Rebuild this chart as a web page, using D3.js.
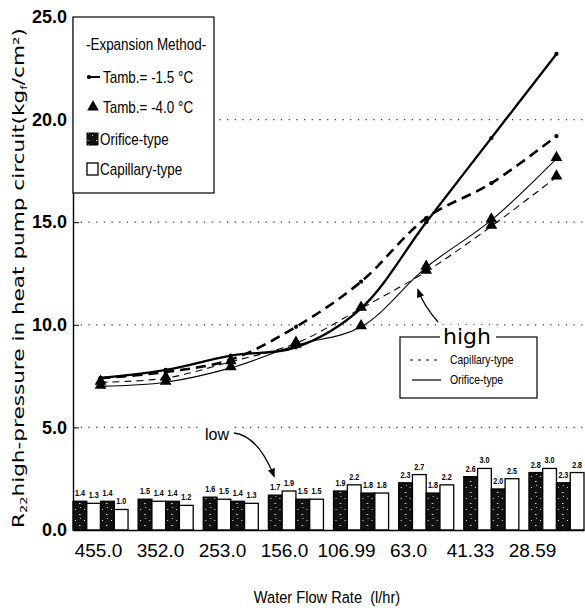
<!DOCTYPE html>
<html>
<head>
<meta charset="utf-8">
<script src="https://cdn.jsdelivr.net/npm/d3@7"></script>
<style>
	body { margin: 0; background: #fff; }
	svg { display: block; }
	text { fill: #000; white-space: pre; }
</style>
</head>
<body>
<svg id="chart" width="585" height="613"></svg>
<script>
// water flow rate categories (l/hr)
const flowRates = ["455.0", "352.0", "253.0", "156.0", "106.99", "63.0", "41.33", "28.59"]
const yTicks = [0, 5, 10, 15, 20, 25]
const gridTicks = [5, 10, 15, 20]

// high pressure lines (kgf/cm2)
const orificeHigh15 = [7.4, 7.8, 8.5, 8.9, 10.8, 15.0, 19.1, 23.2]
const capillaryHigh15 = [7.4, 7.7, 8.3, 9.9, 12.1, 15.2, 16.9, 19.2]
const orificeHigh40 = [7.0, 7.2, 7.9, 9.0, 9.9, 12.8, 15.1, 18.1]
const capillaryHigh40 = [7.2, 7.4, 8.2, 9.1, 10.8, 12.6, 14.8, 17.2]

// low pressure bars
const orificeLow15 = [1.4, 1.5, 1.6, 1.7, 1.9, 2.3, 2.6, 2.8]
const capillaryLow15 = [1.3, 1.4, 1.5, 1.9, 2.2, 2.7, 3.0, 3.0]
const orificeLow40 = [1.4, 1.4, 1.4, 1.5, 1.8, 1.8, 2.0, 2.3]
const capillaryLow40 = [1.0, 1.2, 1.3, 1.5, 1.8, 2.2, 2.5, 2.8]

const sans = "'Liberation Sans', Arial, sans-serif"
const svg = d3.select("#chart")

// condensed text, the scan uses a narrow face
function narrowText(parent, x, y, str, size, squeeze, weight) {
	return parent.append("text")
		.attr("transform", `translate(${x},${y}) scale(${squeeze},1)`)
		.style("font", `${weight || "normal"} ${size}px ${sans}`)
		.text(str)
}

const x = d3.scaleBand().domain(flowRates).range([73, 584]).paddingInner(0.155).paddingOuter(0)
const xLabel = d3.scalePoint().domain(flowRates).range([98, 532])
const y = d3.scaleLinear().domain([0, 25]).range([530, 17])

const barSeries = [
	{ key: "o15", values: orificeLow15, dark: true },
	{ key: "c15", values: capillaryLow15, dark: false },
	{ key: "o40", values: orificeLow40, dark: true },
	{ key: "c40", values: capillaryLow40, dark: false }
]
const xSub = d3.scaleBand().domain(barSeries.map(s => s.key)).range([0, x.bandwidth()])

// speckled black fill for orifice bars
const defs = svg.append("defs")
const pat = defs.append("pattern")
	.attr("id", "speckle")
	.attr("width", 9).attr("height", 11)
	.attr("patternUnits", "userSpaceOnUse")
pat.append("rect").attr("width", 9).attr("height", 11).attr("fill", "#111")
pat.append("rect").attr("x", 2).attr("y", 3).attr("width", 1).attr("height", 1).attr("fill", "#ddd")
pat.append("rect").attr("x", 6).attr("y", 8).attr("width", 1.5).attr("height", 1).attr("fill", "#ddd")
pat.append("rect").attr("x", 7).attr("y", 1).attr("width", 1).attr("height", 1).attr("fill", "#bbb")

defs.append("marker")
	.attr("id", "arrow")
	.attr("viewBox", "0 0 10 10")
	.attr("refX", 8).attr("refY", 5)
	.attr("markerWidth", 7).attr("markerHeight", 7)
	.attr("orient", "auto")
	.append("path").attr("d", "M0,1 L10,5 L0,9 Z").attr("fill", "#000")

// dotted grid
svg.append("g").selectAll("line")
	.data(gridTicks)
	.enter().append("line")
		.attr("x1", 73).attr("x2", 585)
		.attr("y1", d => y(d)).attr("y2", d => y(d))
		.attr("stroke", "#333")
		.attr("stroke-width", 1.2)
		.attr("stroke-dasharray", "1.2,6.5")

// bars
const groups = svg.append("g").selectAll("g")
	.data(flowRates)
	.enter().append("g")
		.attr("transform", d => `translate(${x(d)},0)`)

groups.selectAll("rect")
	.data((d, i) => barSeries.map(s => ({ key: s.key, dark: s.dark, value: s.values[i] })))
	.enter().append("rect")
		.attr("x", d => xSub(d.key))
		.attr("y", d => y(d.value))
		.attr("width", xSub.bandwidth())
		.attr("height", d => y(0) - y(d.value))
		.attr("fill", d => d.dark ? "url(#speckle)" : "#fff")
		.attr("stroke", "#000")
		.attr("stroke-width", 1.3)

groups.selectAll("text")
	.data((d, i) => barSeries.map(s => ({ key: s.key, value: s.values[i] })))
	.enter().append("text")
		.attr("transform", d => `translate(${xSub(d.key) + xSub.bandwidth() / 2},${y(d.value) - 5}) scale(0.8,1)`)
		.attr("text-anchor", "middle")
		.style("font", `bold 9px ${sans}`)
		.text(d => d3.format(".1f")(d.value))

// lines
const lineSeries = [
	{ values: orificeHigh15, width: 2.3, dash: null, mark: "dot" },
	{ values: capillaryHigh15, width: 2.6, dash: "10,6", mark: "dot" },
	{ values: orificeHigh40, width: 1.1, dash: null, mark: "tri" },
	{ values: capillaryHigh40, width: 1.1, dash: "7,5", mark: "tri" }
]
const cx = d => x(d) + x.bandwidth() / 2
const line = d3.line()
	.x((d, i) => cx(flowRates[i]))
	.y(d => y(d))
	.curve(d3.curveCatmullRom.alpha(0.5))

lineSeries.forEach(s => {
	svg.append("path")
		.datum(s.values)
		.attr("d", line)
		.attr("fill", "none")
		.attr("stroke", "#000")
		.attr("stroke-width", s.width)
		.attr("stroke-dasharray", s.dash)
	const sym = s.mark == "tri" ? d3.symbol(d3.symbolTriangle, 60) : d3.symbol(d3.symbolCircle, 14)
	svg.append("g").selectAll("path")
		.data(s.values)
		.enter().append("path")
			.attr("d", sym)
			.attr("transform", (d, i) => `translate(${cx(flowRates[i])},${y(d) - (s.mark == "tri" ? 1 : 0)})`)
			.attr("fill", "#000")
})

// axes
const yAxis = svg.append("g")
	.attr("transform", "translate(73,0)")
	.call(d3.axisLeft(y).tickValues(yTicks).tickFormat(d3.format(".1f")).tickSize(-6).tickSizeOuter(0).tickPadding(6))
yAxis.select(".domain").attr("stroke-width", 1.4)
yAxis.selectAll("text").style("font", `bold 18px ${sans}`)

svg.append("g")
	.attr("transform", `translate(0,${y(0)})`)
	.call(d3.axisBottom(x).tickSize(0).tickSizeOuter(0).tickFormat(""))
	.select(".domain").attr("stroke-width", 1.4)

const xAxis = svg.append("g")
	.attr("transform", `translate(0,${y(0)})`)
	.call(d3.axisBottom(xLabel).tickSize(0).tickPadding(14))
xAxis.select(".domain").remove()
xAxis.selectAll("text").style("font", `19px ${sans}`)

narrowText(svg, 327, 603, "Water Flow Rate  (l/hr)", 17, 0.86).attr("text-anchor", "middle")

const yTitle = svg.append("text")
	.attr("transform", "translate(24,278) rotate(-90)")
	.attr("text-anchor", "middle")
	.attr("textLength", 500)
	.attr("lengthAdjust", "spacingAndGlyphs")
	.style("font", "15px 'DejaVu Sans', sans-serif")
yTitle.append("tspan").text("R")
yTitle.append("tspan").attr("font-size", 9).attr("dy", 3).text("22")
yTitle.append("tspan").attr("dy", -3).text("high-pressure in heat pump circuit(kg")
yTitle.append("tspan").attr("font-size", 9).attr("dy", 3).text("f")
yTitle.append("tspan").attr("dy", -3).text("/cm²)")

// legend: expansion method
const leg = svg.append("g")
leg.append("rect")
	.attr("x", 73).attr("y", 17).attr("width", 141).attr("height", 176)
	.attr("fill", "#fff").attr("stroke", "#000").attr("stroke-width", 1.2)
narrowText(leg, 86, 50, "-Expansion Method-", 16, 0.84)
leg.append("line").attr("x1", 87).attr("x2", 100).attr("y1", 77).attr("y2", 77).attr("stroke", "#000").attr("stroke-width", 2)
leg.append("path").attr("d", d3.symbol(d3.symbolCircle, 14)).attr("transform", "translate(89,77)")
narrowText(leg, 103, 83, "Tamb.= -1.5 °C", 16, 0.84)
leg.append("path").attr("d", d3.symbol(d3.symbolTriangle, 60)).attr("transform", "translate(93,107)")
narrowText(leg, 103, 113, "Tamb.= -4.0 °C", 16, 0.84)
leg.append("rect").attr("x", 87).attr("y", 133).attr("width", 11).attr("height", 12)
	.attr("fill", "url(#speckle)").attr("stroke", "#000")
narrowText(leg, 100, 145, "Orifice-type", 16, 0.84)
leg.append("rect").attr("x", 87).attr("y", 163).attr("width", 11).attr("height", 12)
	.attr("fill", "#fff").attr("stroke", "#000").attr("stroke-width", 1.3)
narrowText(leg, 100, 175, "Capillary-type", 16, 0.84)

// legend: high
const hi = svg.append("g")
hi.append("rect")
	.attr("x", 400).attr("y", 337).attr("width", 137).attr("height", 61)
	.attr("fill", "#fff").attr("stroke", "#000").attr("stroke-width", 1.2)
hi.append("rect").attr("x", 440).attr("y", 325).attr("width", 56).attr("height", 20).attr("fill", "#fff")
hi.append("text")
	.attr("x", 467).attr("y", 344)
	.attr("text-anchor", "middle")
	.style("font", "22px 'DejaVu Sans', sans-serif")
	.text("high")
hi.append("line").attr("x1", 410).attr("x2", 442).attr("y1", 360).attr("y2", 360)
	.attr("stroke", "#000").attr("stroke-dasharray", "3,5")
narrowText(hi, 450, 364, "Capillary-type", 13, 0.8)
hi.append("line").attr("x1", 412).attr("x2", 441).attr("y1", 380).attr("y2", 380)
	.attr("stroke", "#000").attr("stroke-width", 1.2)
narrowText(hi, 450, 384, "Orifice-type", 13, 0.8)

// annotation arrows
svg.append("path")
	.attr("d", "M438,322 Q424,306 418,290")
	.attr("fill", "none").attr("stroke", "#000").attr("stroke-width", 1.3)
	.attr("marker-end", "url(#arrow)")
svg.append("rect").attr("x", 203).attr("y", 426).attr("width", 30).attr("height", 16).attr("fill", "#fff")
svg.append("text")
	.attr("x", 205).attr("y", 440)
	.style("font", `16px ${sans}`)
	.text("low")
svg.append("path")
	.attr("d", "M234,433 Q258,436 274,476")
	.attr("fill", "none").attr("stroke", "#000").attr("stroke-width", 1.3)
	.attr("marker-end", "url(#arrow)")
</script>
</body>
</html>
